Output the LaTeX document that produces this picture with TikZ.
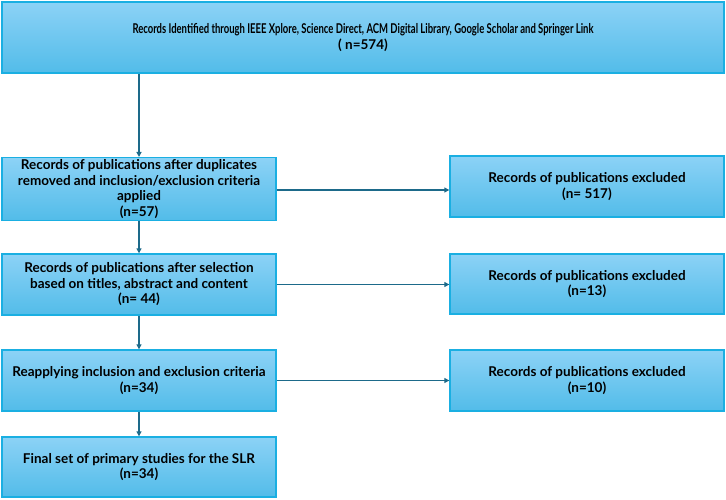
\documentclass[tikz,border=0pt]{standalone}
\usepackage{fontspec}
\setmainfont{Lato}
\usetikzlibrary{arrows.meta}
\definecolor{boxline}{HTML}{1AAFE2}
\definecolor{boxtop}{HTML}{8CD2F6}
\definecolor{boxbot}{HTML}{52BCE9}
\definecolor{arrcol}{HTML}{1D6A8A}
\tikzset{
  box/.style={draw=boxline, line width=1.4pt, top color=boxtop, bottom color=boxbot,
    align=center, inner sep=2pt, font=\bfseries\fontsize{13.5}{15.5}\selectfont, text=black},
  arr/.style={draw=arrcol, line width=1.2pt, -{Triangle[length=5pt,width=5pt]}}
}
\begin{document}
\begin{tikzpicture}[x=1pt,y=-1pt]
\useasboundingbox (0,0) rectangle (726,500);
\node[box, minimum width=722pt, minimum height=71pt] (top) at (363,37.5)
  {\resizebox{461pt}{\height}{Records Identified through IEEE Xplore, Science Direct, ACM Digital Library, Google Scholar and Springer Link}\\( n=574)};
\node[box, minimum width=274pt, minimum height=62pt] (b2) at (139,189)
  {Records of publications after duplicates\\removed and inclusion/exclusion criteria\\applied\\(n=57)};
\node[box, minimum width=274pt, minimum height=61pt] (r1) at (587,186.5)
  {Records of publications excluded\\(n= 517)};
\node[box, minimum width=274pt, minimum height=61pt] (b3) at (139,284.5)
  {Records of publications after selection\\based on titles, abstract and content\\(n= 44)};
\node[box, minimum width=274pt, minimum height=60pt] (r2) at (587,284)
  {Records of publications excluded\\(n=13)};
\node[box, minimum width=274pt, minimum height=61pt] (b4) at (139,380.5)
  {Reapplying inclusion and exclusion criteria\\(n=34)};
\node[box, minimum width=274pt, minimum height=61pt] (r3) at (587,380.5)
  {Records of publications excluded\\(n=10)};
\node[box, minimum width=274pt, minimum height=60pt] (b5) at (139,467)
  {Final set of primary studies for the SLR\\(n=34)};
\draw[arr] (top.south -| b2.north) -- (b2.north);
\draw[arr] (b2.south) -- (b3.north);
\draw[arr] (b3.south) -- (b4.north);
\draw[arr] (b4.south) -- (b5.north);
\draw[arr] ([yshift=-1pt]b2.east) -- ([yshift=-1pt]b2.east -| r1.west);
\draw[arr] (b3.east) -- (b3.east -| r2.west);
\draw[arr] (b4.east) -- (b4.east -| r3.west);
\end{tikzpicture}
\end{document}
